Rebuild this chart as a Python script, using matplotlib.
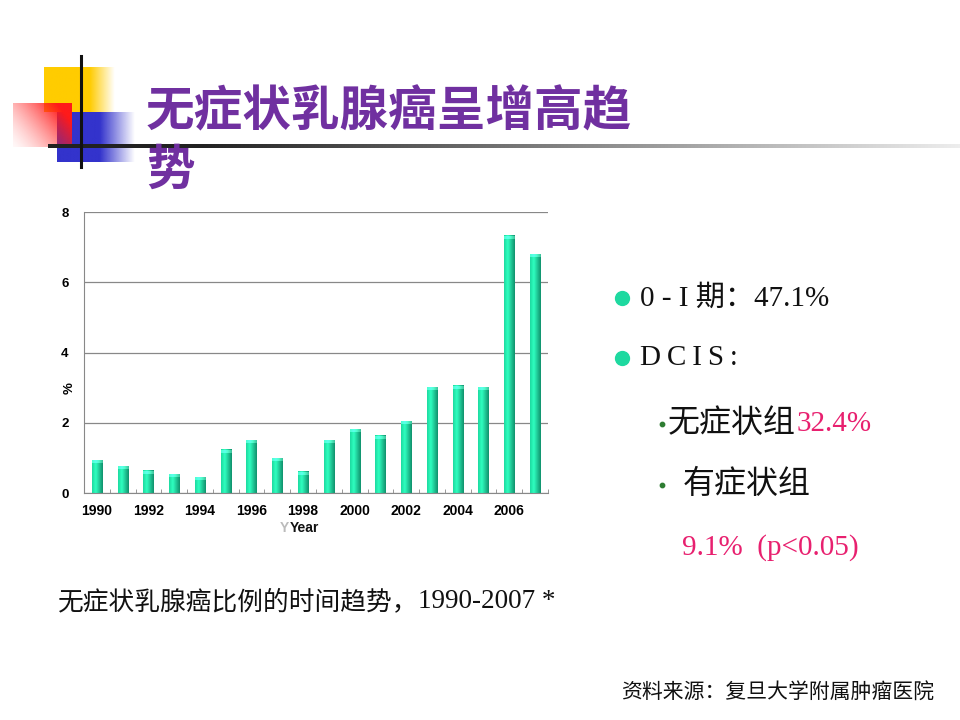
import numpy as np
import matplotlib.pyplot as plt
from matplotlib.colors import to_rgb

plt.rcParams['font.family'] = ['Noto Sans CJK SC', 'DejaVu Sans']

years = list(range(1990, 2008))
pct = [0.92, 0.76, 0.63, 0.54, 0.45, 1.23, 1.50, 0.99, 0.60,
       1.50, 1.82, 1.63, 2.04, 3.01, 3.05, 3.01, 7.32, 6.79]
year_labels = [str(y) if y % 2 == 0 else '' for y in years]
yticks = [0, 2, 4, 6, 8]

title_1 = '无症状乳腺癌呈增高趋'
title_2 = '势'
caption_cn = '无症状乳腺癌比例的时间趋势，'
caption_years = '1990-2007 *'
source = '资料来源：复旦大学附属肿瘤医院'

W, H = 960, 720
fig = plt.figure(figsize=(9.6, 7.2), dpi=100)

# decoration layer, pixel coords
deco = fig.add_axes([0, 0, 1, 1])
deco.set_xlim(0, W)
deco.set_ylim(H, 0)
deco.axis('off')


def fade_block(ax, x0, y0, y1, color, solid_to, fade_to):
    xs = np.linspace(x0, fade_to, 200)
    a = np.clip((fade_to - xs) / (fade_to - solid_to), 0, 1)
    img = np.zeros((1, len(xs), 4))
    img[..., :3] = to_rgb(color)
    img[..., 3] = a
    ax.imshow(img, extent=(x0, fade_to, y1, y0), aspect='auto', interpolation='bilinear', zorder=1)


fade_block(deco, 44, 67, 112, '#FFCC00', 90, 115)
fade_block(deco, 57, 112, 162, '#3333CC', 100, 135)

# red block, strong at top right
gx, gy = np.meshgrid(np.linspace(0, 1, 120), np.linspace(0, 1, 90))
red = np.zeros((90, 120, 4))
red[..., :3] = to_rgb('#FF1A1A')
red[..., 3] = np.clip(0.1 + 0.9 * (gx * 0.75 + (1 - gy) * 0.45), 0, 1) ** 1.6
deco.imshow(red, extent=(13, 72, 147, 103), aspect='auto', interpolation='bilinear', zorder=2)

xs = np.linspace(48, W, 400)
shade = np.clip((xs - 200) / (W - 200), 0, 1) * 0.8 + 0.13
rule = np.stack([shade, shade, shade], axis=-1)[None, :, :]
deco.imshow(rule, extent=(48, W, 148, 144), aspect='auto', zorder=3)
deco.plot([81, 81], [56, 167], color='#111111', lw=2.2, zorder=4)

fig.text(146, H - 112, title_1, transform=None, fontsize=35, fontweight='bold',
         color='#7030A0', va='center', ha='left')
fig.text(146, H - 170, title_2, transform=None, fontsize=35, fontweight='bold',
         color='#7030A0', va='center', ha='left')

# chart
ax = fig.add_axes([84 / W, 1 - 493 / H, (548 - 84) / W, (493 - 212) / H])
x = np.arange(len(years))
bw = 0.4
bars = ax.bar(x, pct, width=bw, color='none', zorder=2)

grad = np.zeros((1, 60, 3))
c_left, c_mid, c_right = np.array(to_rgb('#1ED9A0')), np.array(to_rgb('#2EFFC0')), np.array(to_rgb('#11906C'))
for i, t in enumerate(np.linspace(0, 1, 60)):
    if t < 0.35:
        grad[0, i] = c_left + (c_mid - c_left) * t / 0.35
    else:
        grad[0, i] = c_mid + (c_right - c_mid) * (t - 0.35) / 0.65
for b in bars:
    x0, h = b.get_x(), b.get_height()
    ax.imshow(grad, extent=(x0, x0 + bw, 0, h), aspect='auto', interpolation='bilinear', zorder=2)
    cap = min(0.08, h * 0.2)
    ax.imshow(np.clip(grad + 0.18, 0, 1), extent=(x0, x0 + bw, h - cap, h),
              aspect='auto', interpolation='bilinear', zorder=3)

ax.set_xlim(-0.5, len(years) - 0.5)
ax.set_ylim(0, 8)
ax.set_aspect('auto')
ax.set_yticks(yticks)
ax.set_yticklabels([str(v) for v in yticks], family='Liberation Sans', fontweight='bold', fontsize=9.5)
ax.set_xticks(x)
ax.set_xticklabels(year_labels, family='Liberation Sans', fontweight='bold', fontsize=10)
ax.set_xticks(np.arange(-0.5, len(years)), minor=True)
ax.tick_params(axis='x', which='major', length=0, pad=8)
ax.tick_params(axis='x', which='minor', length=3, direction='in', color='#888888')
ax.tick_params(axis='y', length=0, pad=11)
ax.yaxis.grid(True, color='#888888', lw=0.9, zorder=0)
ax.set_axisbelow(True)
for s in ['top', 'right']:
    ax.spines[s].set_visible(False)
ax.spines['left'].set_color('#888888')
ax.spines['bottom'].set_color('#888888')

fig.text(70, H - 388, '%', transform=None, rotation=90, family='Liberation Sans',
         fontweight='bold', fontsize=9.5, ha='center', va='center')
fig.text(280, H - 528, 'Y', transform=None, family='Liberation Sans',
         fontweight='bold', fontsize=10, color='#BBBBBB', ha='left', va='center')
fig.text(290, H - 528, 'Year', transform=None, family='Liberation Sans',
         fontweight='bold', fontsize=10, color='#111111', ha='left', va='center')

# right-hand notes
serif = ['Liberation Serif', 'Noto Sans CJK SC']
deco.scatter([622, 622], [298, 358], s=100, color='#1ED9A0', zorder=5)
deco.scatter([662, 662], [424, 485], s=10, color='#2E7D32', zorder=5)
fig.text(640, H - 298, '0 - I 期：47.1%', transform=None, family=serif, fontsize=21,
         color='#111111', va='center')
fig.text(640, H - 358, 'D\u2009C\u2009I\u2009S\u2009:', transform=None, family=serif, fontsize=21,
         color='#111111', va='center')
fig.text(668, H - 424, '无症状组', transform=None, family=serif, fontsize=23,
         color='#111111', va='center')
fig.text(797, H - 424, '32.4%', transform=None, family=serif, fontsize=21,
         color='#E8206F', va='center')
fig.text(683, H - 485, '有症状组', transform=None, family=serif, fontsize=23,
         color='#111111', va='center')
fig.text(682, H - 548, '9.1%  (p<0.05)', transform=None, family=serif, fontsize=21,
         color='#E8206F', va='center')

fig.text(58, H - 602, caption_cn, transform=None, family=serif, fontsize=18.5,
         color='#111111', va='center')
fig.text(418, H - 602, caption_years, transform=None, family=serif, fontsize=19.5,
         color='#111111', va='center')
fig.text(934, H - 693, source, transform=None, family=serif, fontsize=15,
         color='#111111', va='center', ha='right')

fig.savefig('out.png', dpi=100)
